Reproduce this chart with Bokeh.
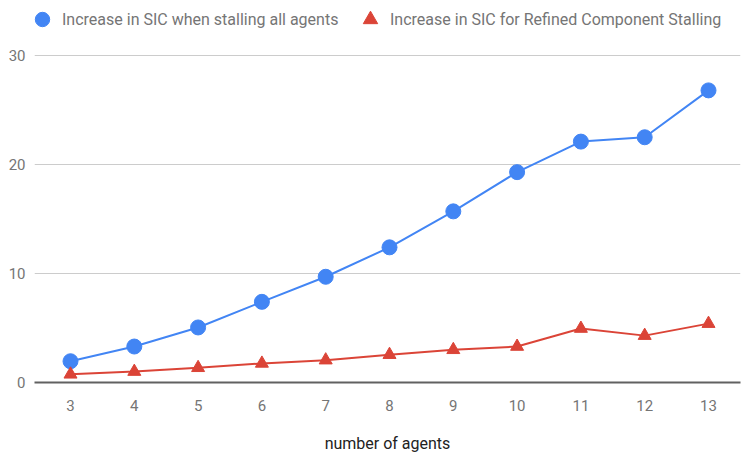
from bokeh.plotting import figure
from bokeh.models import Legend, LegendItem, FixedTicker, Range1d
from bokeh.embed import file_html
from bokeh.resources import INLINE

agents = [3, 4, 5, 6, 7, 8, 9, 10, 11, 12, 13]
sic_all = [1.95, 3.3, 5.05, 7.4, 9.7, 12.4, 15.7, 19.3, 22.1, 22.5, 26.8]
sic_refined = [0.75, 1.0, 1.35, 1.75, 2.05, 2.55, 3.0, 3.3, 4.95, 4.3, 5.4]
y_ticks = [0, 10, 20, 30]
label_all = "Increase in SIC when stalling all agents"
label_refined = "Increase in SIC for Refined Component Stalling"
x_title = "number of agents"

BLUE = "#4285F4"
RED = "#DB4437"
GREY = "#757575"
FONT = "Roboto"

# frame: x 34..740 px (3 -> 70 px, 13 -> 708 px); y 5..382 px (10 units = 109 px)
PX_X = 63.8
PX_Y = 10.9
p = figure(width=743, height=455, output_backend="svg", toolbar_location=None,
           x_range=Range1d(3 - 36 / PX_X, 13 + 32 / PX_X),
           y_range=Range1d(0, 30 + 50 / PX_Y),
           min_border_left=34, min_border_right=3, min_border_top=5, min_border_bottom=73)
p.outline_line_color = None
p.background_fill_color = "white"

r1 = p.line(agents, sic_all, line_color=BLUE, line_width=2)
c1 = p.scatter(agents, sic_all, marker="circle", size=15, fill_color=BLUE, line_color=BLUE)
r2 = p.line(agents, sic_refined, line_color=RED, line_width=2)
c2 = p.scatter(agents, sic_refined, marker="triangle", size=13, fill_color=RED, line_color=RED)

p.xgrid.grid_line_color = None
p.ygrid.grid_line_color = "#cccccc"
p.ygrid.grid_line_width = 1
p.ygrid.ticker = FixedTicker(ticks=y_ticks)

p.yaxis.ticker = FixedTicker(ticks=y_ticks)
p.yaxis.axis_line_color = None
p.yaxis.major_tick_line_color = None
p.yaxis.minor_tick_line_color = None
p.yaxis.major_label_text_font = FONT
p.yaxis.major_label_text_font_size = "15px"
p.yaxis.major_label_text_color = GREY
p.yaxis.major_label_standoff = 3

p.xaxis.ticker = FixedTicker(ticks=agents)
p.xaxis.axis_line_color = "#616161"
p.xaxis.axis_line_width = 2
p.xaxis.major_tick_line_color = None
p.xaxis.minor_tick_line_color = None
p.xaxis.major_label_text_font = FONT
p.xaxis.major_label_text_font_size = "15px"
p.xaxis.major_label_text_color = GREY
p.xaxis.major_label_standoff = 11
p.xaxis.axis_label = x_title
p.xaxis.axis_label_text_font = FONT
p.xaxis.axis_label_text_font_size = "16px"
p.xaxis.axis_label_text_font_style = "normal"
p.xaxis.axis_label_text_color = "#222222"
p.xaxis.axis_label_standoff = 20

common = dict(orientation="horizontal", border_line_color=None, background_fill_alpha=0,
              label_text_font=FONT, label_text_font_size="16px", label_text_color=GREY,
              glyph_width=36, glyph_height=36, padding=0, margin=0, label_standoff=2,
              label_height=36)
leg1 = Legend(items=[LegendItem(label=label_all, renderers=[c1])], location=(-10, 345), **common)
leg2 = Legend(items=[LegendItem(label=label_refined, renderers=[c2])], location=(318, 345), **common)
p.add_layout(leg1, "center")
p.add_layout(leg2, "center")

open("out.html", "w").write(file_html(p, INLINE))
